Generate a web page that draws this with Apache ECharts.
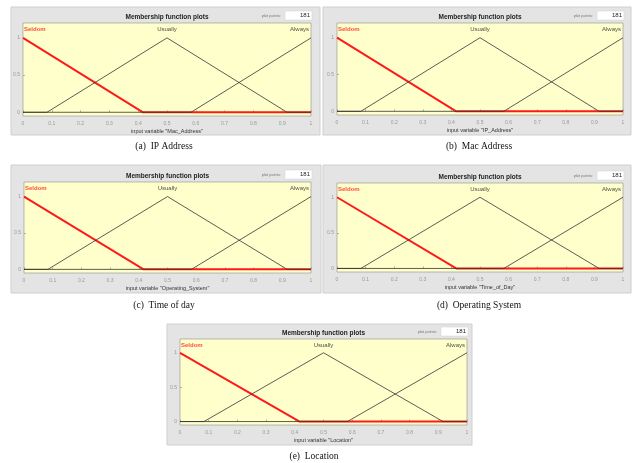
<!DOCTYPE html>
<html>
<head>
<meta charset="utf-8">
<script src="https://cdn.jsdelivr.net/npm/echarts@6/dist/echarts.min.js"></script>
<style>
  html, body { margin: 0; padding: 0; background: #fff; }
  #main { width: 639px; height: 463px; }
</style>
</head>
<body>
<div id="main"></div>
<script>
// membership functions (same in every panel)
const mfNames = ["Seldom", "Usually", "Always"];
const seldomX = [0, 0.4167, 1];
const seldomY = [1, 0, 0];
const usuallyX = [0, 0.0833, 0.5, 0.9167, 1];
const usuallyY = [0, 0, 1, 0, 0];
const alwaysX = [0, 0.5833, 1];
const alwaysY = [0, 0, 1];
const mfPeaks = [0, 0.5, 1];

const inputVars = ["Mac_Address", "IP_Address", "Operating_System", "Time_of_Day", "Location"];
const captions = ["(a)  IP Address", "(b)  Mac Address", "(c)  Time of day", "(d)  Operating System", "(e)  Location"];
const plotPoints = "181";
const yTicks = [0, 0.5, 1];

// layout of the five panels: gray box, plot area, caption
const panels = [
  { box: [11, 7, 309, 128], plot: [23, 23, 288, 93], cap: [164, 146] },
  { box: [323, 7, 308, 128], plot: [337, 23, 286, 92], cap: [479, 146] },
  { box: [11, 165, 310, 128], plot: [24, 182, 287, 91], cap: [164, 305] },
  { box: [323, 165, 308, 128], plot: [337, 183, 286, 89], cap: [479, 305] },
  { box: [167, 324, 305, 121], plot: [180, 339, 287, 86], cap: [314, 456] },
];

const zip = (xs, ys) => xs.map((x, i) => [x, ys[i]]);

const grid = [], xAxis = [], yAxis = [], series = [], graphic = [];

panels.forEach((p, i) => {
  const [bx, by, bw, bh] = p.box;
  const [px, py, pw, ph] = p.plot;

  // gray panel background
  graphic.push({
    type: "rect", z: -10, shape: { x: bx, y: by, width: bw, height: bh },
    style: { fill: "#e4e4e4", stroke: "#cfcfcf", lineWidth: 1 },
  });
  // title
  graphic.push({
    type: "text", x: px + pw / 2, y: py - 6,
    style: { text: "Membership function plots", font: "bold 6.5px 'Liberation Sans'", fill: "#222", align: "center", verticalAlign: "middle" },
  });
  // plot points box
  graphic.push({
    type: "rect", shape: { x: px + pw - 26, y: py - 12, width: 27, height: 9 },
    style: { fill: "#fff", stroke: "#d0d0d0", lineWidth: 0.5 },
  });
  graphic.push({
    type: "text", x: px + pw - 1, y: py - 7.5,
    style: { text: plotPoints, font: "6px 'Liberation Sans'", fill: "#222", align: "right", verticalAlign: "middle" },
  });
  graphic.push({
    type: "text", x: px + pw - 30, y: py - 7.5,
    style: { text: "plot points:", font: "4px 'Liberation Sans'", fill: "#777", align: "right", verticalAlign: "middle" },
  });
  // caption
  graphic.push({
    type: "text", x: p.cap[0], y: p.cap[1],
    style: { text: captions[i], font: "9.5px 'Liberation Serif'", fill: "#111", align: "center", verticalAlign: "middle" },
  });

  grid.push({
    left: px, top: py, width: pw, height: ph,
    show: true, backgroundColor: "#ffffcc", borderColor: "#8f8f8f", borderWidth: 0.6,
  });
  xAxis.push({
    type: "value", gridIndex: i, min: 0, max: 1, interval: 0.1,
    name: "input variable \"" + inputVars[i] + "\"",
    nameLocation: "middle", nameGap: 12,
    nameTextStyle: { fontSize: 5.5, color: "#333", fontFamily: "Liberation Sans" },
    axisLine: { show: false },
    axisTick: { show: true, inside: true, length: 2, lineStyle: { color: "#888", width: 0.6 } },
    axisLabel: { fontSize: 5, color: "#999", margin: 5, fontFamily: "Liberation Sans" },
    splitLine: { show: false },
  });
  yAxis.push({
    type: "value", gridIndex: i, min: -0.05, max: 1.2,
    axisLine: { show: false },
    axisTick: { show: true, inside: true, length: 2, customValues: yTicks, lineStyle: { color: "#888", width: 0.6 } },
    axisLabel: { fontSize: 5, color: "#999", margin: 3, customValues: yTicks, fontFamily: "Liberation Sans" },
    splitLine: { show: false },
  });

  series.push({
    type: "line", name: mfNames[0], xAxisIndex: i, yAxisIndex: i,
    data: zip(seldomX, seldomY), showSymbol: false, silent: true,
    lineStyle: { color: "#ff1a1a", width: 2 },
  });
  series.push({
    type: "line", name: mfNames[1], xAxisIndex: i, yAxisIndex: i,
    data: zip(usuallyX, usuallyY), showSymbol: false, silent: true,
    lineStyle: { color: "#333", width: 0.8 },
  });
  series.push({
    type: "line", name: mfNames[2], xAxisIndex: i, yAxisIndex: i,
    data: zip(alwaysX, alwaysY), showSymbol: false, silent: true,
    lineStyle: { color: "#333", width: 0.8 },
  });
  // membership function names above their peaks
  const aligns = ["left", "center", "right"];
  series.push({
    type: "scatter", xAxisIndex: i, yAxisIndex: i, symbolSize: 0, silent: true,
    data: mfNames.map((n, k) => ({
      value: [mfPeaks[k], 1.11], name: n,
      label: {
        show: true, position: "inside", formatter: n, align: aligns[k],
        color: k === 0 ? "#ff1a1a" : "#222", fontSize: 6, fontFamily: "Liberation Sans",
        fontWeight: k === 0 ? "bold" : "normal",
        offset: [k === 0 ? 1 : k === 2 ? -2 : 0, 0],
      },
    })),
  });
});

const chart = echarts.init(document.getElementById("main"));
chart.setOption({
  animation: false,
  backgroundColor: "#fff",
  grid, xAxis, yAxis, series, graphic,
});
</script>
</body>
</html>
